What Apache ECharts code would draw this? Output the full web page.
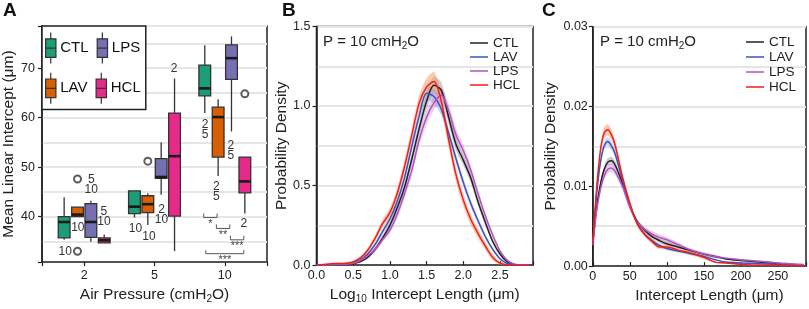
<!DOCTYPE html>
<html>
<head>
<meta charset="utf-8">
<script src="https://cdn.jsdelivr.net/npm/echarts@6/dist/echarts.min.js"></script>
<style>
html, body { margin: 0; padding: 0; background: #fff; }
#main { width: 809px; height: 309px; }
</style>
</head>
<body>
<div id="main"></div>
<script>
var chartDom = document.getElementById('main');
var myChart = echarts.init(chartDom);
var option;

var FONT = "'Liberation Sans', Arial, sans-serif";

// ---- panel A: boxplots, one row per pressure: [low whisker, q1, median, q3, high whisker]
var pressures = ['2', '5', '10'];
var groups = ['CTL', 'LAV', 'LPS', 'HCL'];
var legendOrderA = ['CTL', 'LPS', 'LAV', 'HCL'];
var boxCTL = [[35.3, 35.7, 38.9, 40.0, 43.9], [39.8, 40.6, 42.0, 45.2, 45.2], [60.9, 64.4, 65.9, 70.6, 74.6]];
var boxLAV = [[40.0, 40.0, 40.4, 41.9, 41.9], [38.3, 40.8, 42.5, 44.2, 44.7], [48.2, 52.0, 60.1, 62.1, 63.7]];
var boxLPS = [[34.9, 35.8, 38.9, 42.6, 43.2], [44.4, 47.7, 48.0, 51.7, 55.0], [57.2, 67.7, 72.0, 74.7, 76.4]];
var boxHCL = [[34.7, 34.7, 35.2, 35.7, 36.4], [33.0, 40.1, 52.2, 60.9, 67.9], [40.6, 44.8, 47.1, 52.0, 52.0]];
// outliers: [pressure index (1..3), group index, value]
var outliers = [[1, 1, 33.0], [1, 1, 47.6], [2, 1, 51.2], [3, 3, 64.8]];
// small number notes: [x position, y value, text]
var notes = [
    [0.73, 33.0, '10'], [0.91, 37.7, '10'], [1.10, 46.5, '5\n10'], [1.28, 40.0, '5\n10'],
    [1.73, 37.5, '10'], [1.92, 36.0, '10'], [2.10, 40.4, '2\n10'], [2.28, 69.9, '2'],
    [2.72, 57.5, '2\n5'], [3.085, 53.3, '2\n5'], [2.88, 45.1, '2\n5'], [3.27, 38.6, '2']
];
// significance brackets: [x from, x to, y value, label]
var brackets = [[2.70, 2.89, 39.8, '*'], [2.88, 3.07, 37.6, '**'], [3.08, 3.27, 35.3, '***'], [2.73, 3.27, 32.5, '***']];

// ---- panel B: density over log10 intercept length
var xsB = [0, 0.1, 0.2, 0.3, 0.4, 0.5, 0.6, 0.7, 0.8, 0.9, 1.0, 1.1, 1.2, 1.3, 1.4, 1.5, 1.6, 1.7, 1.8, 1.9, 2.0, 2.1, 2.2, 2.3, 2.4, 2.5, 2.6, 2.7, 2.8, 2.9];
var ctlB = [0, 0, 0.001, 0.002, 0.004, 0.009, 0.022, 0.05, 0.1, 0.17, 0.25, 0.36, 0.49, 0.67, 0.86, 1.03, 1.13, 1.1, 0.93, 0.76, 0.66, 0.55, 0.4, 0.27, 0.15, 0.07, 0.02, 0.004, 0, 0];
var lavB = [0, 0.001, 0.002, 0.004, 0.007, 0.014, 0.033, 0.072, 0.13, 0.21, 0.29, 0.4, 0.55, 0.75, 0.94, 1.08, 1.06, 0.98, 0.83, 0.67, 0.52, 0.39, 0.28, 0.18, 0.1, 0.04, 0.01, 0.002, 0, 0];
var lpsB = [0, 0, 0.001, 0.003, 0.006, 0.012, 0.03, 0.06, 0.1, 0.16, 0.22, 0.32, 0.45, 0.6, 0.79, 0.93, 1.02, 1.07, 0.97, 0.82, 0.72, 0.6, 0.45, 0.31, 0.19, 0.09, 0.03, 0.006, 0.001, 0];
var hclB = [0, 0.004, 0.008, 0.01, 0.012, 0.02, 0.045, 0.095, 0.17, 0.26, 0.33, 0.45, 0.62, 0.82, 1.02, 1.12, 1.155, 1.03, 0.79, 0.57, 0.41, 0.29, 0.2, 0.12, 0.05, 0.012, 0.002, 0, 0, 0];
// half widths of the shaded bands
var ctlBandB = [0, 0, 0.001, 0.002, 0.003, 0.004, 0.006, 0.01, 0.014, 0.018, 0.022, 0.026, 0.03, 0.035, 0.04, 0.05, 0.055, 0.05, 0.045, 0.04, 0.035, 0.03, 0.025, 0.02, 0.015, 0.01, 0.005, 0.002, 0, 0];
var lavBandB = [0, 0.001, 0.001, 0.002, 0.003, 0.004, 0.006, 0.01, 0.014, 0.018, 0.022, 0.026, 0.03, 0.035, 0.04, 0.045, 0.045, 0.04, 0.035, 0.03, 0.028, 0.025, 0.02, 0.016, 0.012, 0.008, 0.004, 0.001, 0, 0];
var lpsBandB = [0, 0, 0.001, 0.002, 0.003, 0.004, 0.006, 0.01, 0.014, 0.018, 0.022, 0.026, 0.03, 0.035, 0.04, 0.045, 0.045, 0.045, 0.045, 0.04, 0.035, 0.03, 0.025, 0.02, 0.016, 0.01, 0.005, 0.002, 0, 0];
var hclBandB = [0, 0.004, 0.006, 0.007, 0.008, 0.01, 0.012, 0.016, 0.02, 0.025, 0.03, 0.035, 0.04, 0.045, 0.05, 0.055, 0.06, 0.055, 0.05, 0.045, 0.04, 0.035, 0.03, 0.025, 0.02, 0.012, 0.005, 0.002, 0, 0];

// ---- panel C: density over intercept length (um)
var xsC = [0, 5, 10, 15, 20, 25, 30, 40, 50, 60, 70, 80, 90, 100, 115, 130, 150, 165, 180, 200, 225, 250, 285];
var ctlC = [0.0027, 0.0072, 0.0101, 0.0120, 0.0130, 0.0132, 0.0127, 0.0104, 0.0076, 0.0056, 0.0045, 0.0037, 0.0032, 0.0028, 0.0024, 0.0020, 0.0015, 0.0012, 0.0009, 0.0007, 0.0005, 0.0003, 0.0001];
var lavC = [0.0027, 0.0088, 0.0128, 0.0150, 0.0156, 0.0151, 0.0141, 0.0108, 0.0077, 0.0054, 0.0040, 0.0032, 0.0026, 0.0022, 0.0019, 0.0016, 0.0012, 0.0008, 0.0005, 0.0004, 0.0003, 0.0002, 0.0001];
var lpsC = [0.0027, 0.0068, 0.0095, 0.0112, 0.0121, 0.0123, 0.0119, 0.0100, 0.0074, 0.0055, 0.0046, 0.0040, 0.0036, 0.0033, 0.0027, 0.0021, 0.0015, 0.0012, 0.0010, 0.0008, 0.0006, 0.0004, 0.0002];
var hclC = [0.0027, 0.0095, 0.0143, 0.0166, 0.0171, 0.0165, 0.0152, 0.0112, 0.0079, 0.0053, 0.0040, 0.0031, 0.0024, 0.0024, 0.0020, 0.0017, 0.0011, 0.0005, 0.0004, 0.0002, 0.0001, 0.0001, 0];
var ctlBandC = [0.0002, 0.0003, 0.0004, 0.0005, 0.0005, 0.0005, 0.0005, 0.0004, 0.0004, 0.0003, 0.0003, 0.0003, 0.0003, 0.0003, 0.0002, 0.0002, 0.0002, 0.0002, 0.0001, 0.0001, 0.0001, 0.0001, 0];
var lavBandC = [0.0002, 0.0003, 0.0004, 0.0005, 0.0005, 0.0005, 0.0005, 0.0004, 0.0003, 0.0003, 0.0003, 0.0003, 0.0002, 0.0002, 0.0002, 0.0002, 0.0002, 0.0001, 0.0001, 0.0001, 0.0001, 0.0001, 0];
var lpsBandC = [0.0002, 0.0003, 0.0004, 0.0005, 0.0005, 0.0005, 0.0005, 0.0004, 0.0004, 0.0003, 0.0003, 0.0004, 0.0004, 0.0003, 0.0003, 0.0002, 0.0002, 0.0002, 0.0001, 0.0001, 0.0001, 0.0001, 0];
var hclBandC = [0.0003, 0.0005, 0.0006, 0.0007, 0.0007, 0.0007, 0.0006, 0.0005, 0.0004, 0.0003, 0.0003, 0.0003, 0.0003, 0.0003, 0.0002, 0.0002, 0.0002, 0.0001, 0.0001, 0.0001, 0.0001, 0.0001, 0];

var boxColors = ['#1b9e77', '#d95f02', '#7570b3', '#e7298a'];
var lineColors = ['#222222', '#3a53c0', '#b452c4', '#f01e1e'];
var bandColors = ['rgba(130,130,130,0.4)', 'rgba(120,130,215,0.35)', 'rgba(195,110,205,0.35)', 'rgba(250,150,100,0.5)'];

var boxStep = 0.19;   // spacing of the 4 boxes inside a pressure group (axis units)
var boxOffsets = [-1.5 * boxStep, -0.5 * boxStep, 0.5 * boxStep, 1.5 * boxStep];
var gridLine = { lineStyle: { color: '#e6e6e6', width: 2 } };
var boxIcon = 'path://M5,0L5,6M0,6L10,6L10,24L0,24ZM0,15L10,15M5,24L5,30';

function renderBox(params, api) {
    var x = api.value(0) + boxOffsets[api.value(1)];
    var lo = api.coord([x, api.value(2)]);
    var q1 = api.coord([x, api.value(3)]);
    var md = api.coord([x, api.value(4)]);
    var q3 = api.coord([x, api.value(5)]);
    var hi = api.coord([x, api.value(6)]);
    var w = api.size([boxStep * 0.88, 0])[0];
    var c = lo[0];
    var stroke = { stroke: '#333', lineWidth: 1.3 };
    return {
        type: 'group',
        children: [
            { type: 'line', shape: { x1: c, y1: lo[1], x2: c, y2: q1[1] }, style: stroke },
            { type: 'line', shape: { x1: c, y1: q3[1], x2: c, y2: hi[1] }, style: stroke },
            { type: 'rect', shape: { x: c - w / 2, y: q3[1], width: w, height: q1[1] - q3[1] },
              style: { fill: api.visual('color'), stroke: '#333', lineWidth: 1.3 } },
            { type: 'line', shape: { x1: c - w / 2, y1: md[1], x2: c + w / 2, y2: md[1] },
              style: { stroke: '#1a1a1a', lineWidth: 2.6 } }
        ]
    };
}

function renderNote(params, api) {
    var p = api.coord([api.value(0), api.value(1)]);
    return {
        type: 'text', x: p[0], y: p[1],
        style: { text: notes[params.dataIndex][2], align: 'center', verticalAlign: 'middle',
                 fontSize: 12, lineHeight: 10, fontFamily: FONT, fill: '#333' }
    };
}

function renderBracket(params, api) {
    var a = api.coord([api.value(0), api.value(2)]);
    var b = api.coord([api.value(1), api.value(2)]);
    var h = params.dataIndex === 3 ? 3.5 : 4;
    return {
        type: 'group',
        children: [
            { type: 'polyline', shape: { points: [[a[0], a[1] - h], [a[0], a[1]], [b[0], b[1]], [b[0], b[1] - h]] },
              style: { stroke: '#555', lineWidth: 1, fill: null } },
            { type: 'text', x: (a[0] + b[0]) / 2, y: a[1] + 1,
              style: { text: brackets[params.dataIndex][3], align: 'center', verticalAlign: 'top',
                       fontSize: 11, fontFamily: FONT, fill: '#444' } }
        ]
    };
}

// shaded band: whole polygon drawn from the first item
function renderBand(params, api) {
    if (params.dataIndex !== 0) return null;
    var n = params.dataInsideLength;
    var top = [], bottom = [];
    for (var i = 0; i < n; i++) {
        top.push(api.coord([api.value(0, i), api.value(2, i)]));
        bottom.unshift(api.coord([api.value(0, i), api.value(1, i)]));
    }
    return {
        type: 'polygon',
        shape: { points: top.concat(bottom), smooth: 0.25 },
        style: { fill: api.visual('color') }
    };
}

function bandData(xs, mean, half) {
    return xs.map(function(x, i) { return [x, mean[i] - half[i], mean[i] + half[i]]; });
}
function lineData(xs, mean) {
    return xs.map(function(x, i) { return [x, mean[i]]; });
}

function axisBase(extra) {
    var base = {
        type: 'value',
        nameLocation: 'middle',
        nameTextStyle: { fontSize: 15.5, color: '#222', fontFamily: FONT, rich: { s: { fontSize: 10, padding: [8, 0, 0, 0], color: '#222' } } },
        axisLine: { show: true, lineStyle: { color: '#222', width: 1.5 } },
        axisTick: { show: true, length: 4, lineStyle: { color: '#222', width: 1.2 } },
        axisLabel: { fontSize: 12.5, color: '#222', fontFamily: FONT },
        splitLine: { show: false }
    };
    return Object.assign(base, extra);
}

var series = [];
var boxSets = [boxCTL, boxLAV, boxLPS, boxHCL];
boxSets.forEach(function(set, t) {
    series.push({
        name: 'A-' + groups[t], type: 'custom', xAxisIndex: 0, yAxisIndex: 0,
        itemStyle: { color: boxColors[t] },
        renderItem: renderBox,
        encode: { x: 0, y: [2, 3, 4, 5, 6] },
        data: set.map(function(b, i) { return [i + 1, t].concat(b); })
    });
});
series.push({
    name: 'A-out', type: 'scatter', xAxisIndex: 0, yAxisIndex: 0,
    symbol: 'emptyCircle', symbolSize: 7,
    itemStyle: { color: '#333', borderWidth: 1.2 },
    data: outliers.map(function(o) { return [o[0] + boxOffsets[o[1]], o[2]]; })
});
series.push({
    name: 'A-notes', type: 'custom', xAxisIndex: 0, yAxisIndex: 0,
    renderItem: renderNote, encode: { x: 0, y: 1 },
    data: notes.map(function(n) { return [n[0], n[1]]; })
});
series.push({
    name: 'A-sig', type: 'custom', xAxisIndex: 0, yAxisIndex: 0,
    renderItem: renderBracket, encode: { x: [0, 1], y: 2 },
    data: brackets.map(function(b) { return [b[0], b[1], b[2]]; })
});

var curvesB = [ctlB, lavB, lpsB, hclB], bandsB = [ctlBandB, lavBandB, lpsBandB, hclBandB];
var curvesC = [ctlC, lavC, lpsC, hclC], bandsC = [ctlBandC, lavBandC, lpsBandC, hclBandC];
[['B', 1, xsB, curvesB, bandsB], ['C', 2, xsC, curvesC, bandsC]].forEach(function(p) {
    groups.forEach(function(g, t) {
        series.push({
            name: p[0] + '-band-' + g, type: 'custom', xAxisIndex: p[1], yAxisIndex: p[1],
            itemStyle: { color: bandColors[t] }, renderItem: renderBand, clip: true,
            encode: { x: 0, y: [1, 2] },
            data: bandData(p[2], p[3][t], p[4][t])
        });
    });
    groups.forEach(function(g, t) {
        series.push({
            name: p[0] + '-' + g, type: 'line', xAxisIndex: p[1], yAxisIndex: p[1],
            smooth: 0.3, symbol: 'none', color: lineColors[t],
            lineStyle: { width: 1.5, color: lineColors[t] },
            data: lineData(p[2], p[3][t])
        });
    });
});

var subTitle = '{a|P = 10 cmH}{s|2}{a|O}';
var subRich = {
    a: { fontSize: 15, color: '#222', fontWeight: 'normal', fontFamily: FONT },
    s: { fontSize: 10, padding: [8, 0, 0, 0], color: '#222', fontWeight: 'normal', fontFamily: FONT }
};
var stripName = function(name) { return name.slice(2); };
var lineLegend = function(prefix, left, top, gap) {
    return {
        data: groups.map(function(g) { return { name: prefix + g, icon: 'rect' }; }),
        orient: 'vertical', left: left, top: top, padding: 0,
        itemWidth: 18, itemHeight: 1.5, itemGap: gap,
        textStyle: { fontSize: 13.5, lineHeight: 11, color: '#222', fontFamily: FONT },
        formatter: stripName, selectedMode: false
    };
};

option = {
    animation: false,
    textStyle: { fontFamily: FONT },
    title: [
        { text: 'A', left: 3, top: 1, padding: 0, textStyle: { fontSize: 19, fontWeight: 'bold', color: '#111' } },
        { text: 'B', left: 282, top: 1, padding: 0, textStyle: { fontSize: 19, fontWeight: 'bold', color: '#111' } },
        { text: 'C', left: 542, top: 1, padding: 0, textStyle: { fontSize: 19, fontWeight: 'bold', color: '#111' } },
        { text: subTitle, left: 323, top: 33, padding: 0, textStyle: { fontWeight: 'normal', rich: subRich } },
        { text: subTitle, left: 600, top: 33, padding: 0, textStyle: { fontWeight: 'normal', rich: subRich } }
    ],
    legend: [{
        data: legendOrderA.map(function(g) { return { name: 'A-' + g, icon: boxIcon }; }),
        left: 42, top: 26, width: 100, padding: [6, 5, 5, 3],
        itemWidth: 11, itemHeight: 31, itemGap: 8,
        borderColor: '#222', borderWidth: 1.5, backgroundColor: '#fff',
        itemStyle: { borderColor: '#333', borderWidth: 1.2 },
        textStyle: { fontSize: 15, color: '#111', fontFamily: FONT, padding: [0, 0, 0, -1] },
        formatter: stripName, selectedMode: false
    },
        lineLegend('B-', 470, 36, 0),
        lineLegend('C-', 746, 35, 1)
    ],
    grid: [
        { left: 42, top: 26, width: 225, height: 241, show: true, borderColor: '#222', borderWidth: 1.5 },
        { left: 316.5, top: 26.5, width: 216.5, height: 240.8, show: true, borderColor: '#222', borderWidth: 1.5 },
        { left: 592.8, top: 26.7, width: 214, height: 240, show: true, borderColor: '#222', borderWidth: 1.5 }
    ],
    xAxis: [
        axisBase({
            gridIndex: 0, min: 0.4, max: 3.6, splitNumber: 3, minInterval: 1, maxInterval: 1,
            name: 'Air Pressure (cmH{s|2}O)', nameGap: 20,
            axisLabel: { fontSize: 12.5, color: '#222', fontFamily: FONT, margin: 7,
                formatter: function(v) { return pressures[Math.round(v) - 1] || ''; } }
        }),
        axisBase({
            gridIndex: 1, min: 0, max: 2.95, interval: 0.5,
            name: 'Log{s|10} Intercept Length (μm)', nameGap: 20,
            axisTick: { show: true, inside: true, length: 4, lineStyle: { color: '#222', width: 1.2 } },
            axisLabel: { fontSize: 12.5, color: '#222', fontFamily: FONT, margin: 4,
                formatter: function(v) { return Math.abs(v * 2 - Math.round(v * 2)) > 1e-6 ? '' : v.toFixed(1); } }
        }),
        axisBase({
            gridIndex: 2, min: 0, max: 288, interval: 50,
            name: 'Intercept Length (μm)', nameGap: 20,
            nameTextStyle: { fontSize: 15.5, color: '#222', fontFamily: FONT, padding: [0, 0, 0, 20] },
            axisTick: { show: true, inside: true, length: 4, lineStyle: { color: '#222', width: 1.2 } },
            axisLabel: { fontSize: 12.5, color: '#222', fontFamily: FONT, margin: 4,
                formatter: function(v) { return v % 50 === 0 ? String(v) : ''; } }
        })
    ],
    yAxis: [
        axisBase({
            gridIndex: 0, min: 30.8, max: 78.5, splitNumber: 5,
            name: 'Mean Linear Intercept (μm)', nameGap: 24,
            axisLabel: { fontSize: 12.5, color: '#222', fontFamily: FONT, margin: 7,
                formatter: function(v) { return v % 10 === 0 ? String(v) : ''; } },
            splitLine: gridLine,
            minorTick: { show: false, splitNumber: 2 },
            minorSplitLine: { show: true, lineStyle: { color: '#e6e6e6', width: 2 } }
        }),
        axisBase({
            gridIndex: 1, min: 0, max: 1.5, interval: 0.5,
            name: 'Probability Density', nameGap: 25,
            axisLabel: { fontSize: 12.5, color: '#222', fontFamily: FONT, margin: 6,
                formatter: function(v) { return v.toFixed(1); } },
            splitLine: gridLine,
            minorTick: { show: false, splitNumber: 2 },
            minorSplitLine: { show: true, lineStyle: { color: '#e6e6e6', width: 2 } }
        }),
        axisBase({
            gridIndex: 2, min: 0, max: 0.03, interval: 0.01,
            name: 'Probability Density', nameGap: 34,
            axisLabel: { fontSize: 12.5, color: '#222', fontFamily: FONT, margin: 5,
                formatter: function(v) { return v.toFixed(2); } },
            splitLine: gridLine,
            minorTick: { show: false, splitNumber: 2 },
            minorSplitLine: { show: true, lineStyle: { color: '#e6e6e6', width: 2 } }
        })
    ],
    series: series
};

option && myChart.setOption(option);
</script>
</body>
</html>
